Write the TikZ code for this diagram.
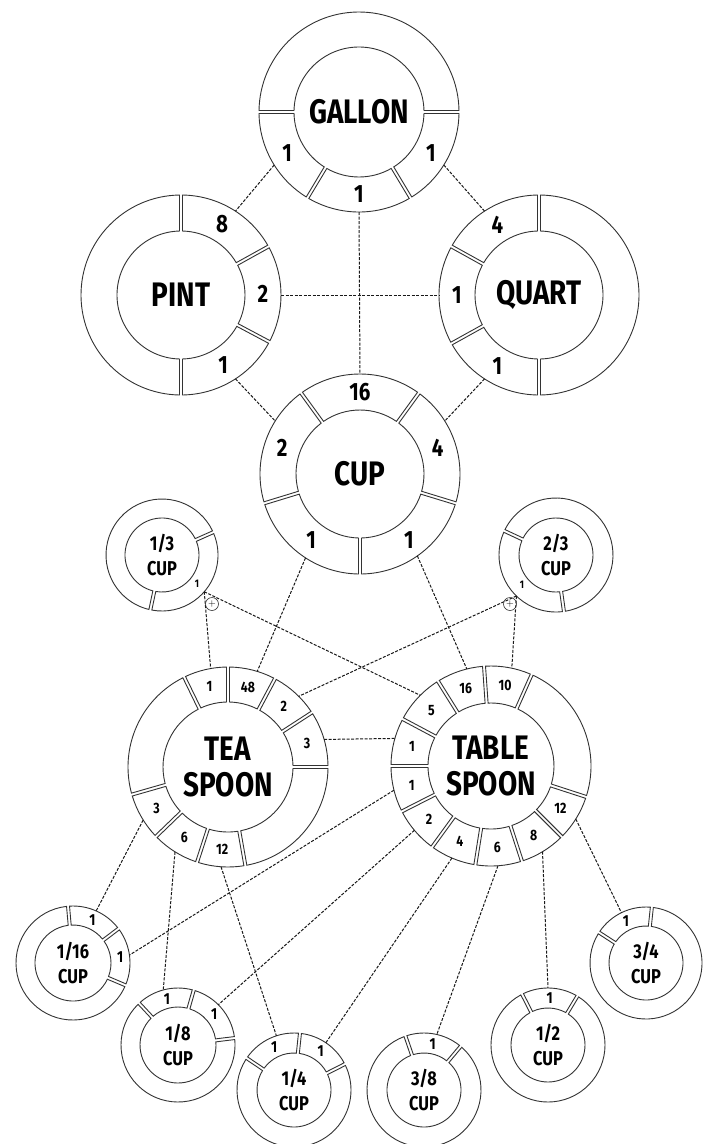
\documentclass[tikz,border=0pt]{standalone}
\usepackage{fontspec}
\newfontfamily\cf{Fira Sans}[FakeStretch=0.82]
\def\gapw{1.5}
\newcommand\ringseg[4]{%
  \pgfmathsetmacro\rsInS{#3+\gapw/#1*57.2958}%
  \pgfmathsetmacro\rsInE{#4-\gapw/#1*57.2958}%
  \pgfmathsetmacro\rsOutS{#3+\gapw/#2*57.2958}%
  \pgfmathsetmacro\rsOutE{#4-\gapw/#2*57.2958}%
  \draw[ringline] (\rsOutS:#2) arc[start angle=\rsOutS, end angle=\rsOutE, radius=#2]
    -- (\rsInE:#1) arc[start angle=\rsInE, end angle=\rsInS, radius=#1] -- cycle;
}
\tikzset{
  ringline/.style={draw=black!80, line width=0.9pt},
  conn/.style={draw=black!90, line width=1pt, dash pattern=on 3pt off 1.5pt},
  hub/.style={circle, inner sep=0pt, outer sep=0pt, align=center},
  title/.style={font=\cf\bfseries\fontsize{34}{36}\selectfont},
  smalltitle/.style={font=\cf\bfseries\fontsize{20}{25}\selectfont},
  bignum/.style={font=\cf\bfseries\fontsize{25}{25}\selectfont, inner sep=0pt},
  midnum/.style={font=\cf\bfseries\fontsize{15}{15}\selectfont, inner sep=0pt},
  smallnum/.style={font=\cf\bfseries\fontsize{16}{16}\selectfont, inner sep=0pt},
  tinynum/.style={font=\cf\bfseries\fontsize{11}{11}\selectfont, inner sep=0pt},
  marker/.style={circle, draw=black!80, line width=0.6pt, minimum size=13pt, inner sep=0pt,
    font=\fontsize{10}{10}\selectfont},
}
\begin{document}
\begin{tikzpicture}[x=1pt,y=1pt]
\useasboundingbox (0,0) rectangle (709,-1144);
\fill[white] (0,0) rectangle (709,-1144);

% ---------- hubs ----------
\node[hub, title, minimum size=200pt] (gal) at (359,-112) {GALLON};
\node[hub, title, minimum size=200pt] (pint) at (181,-295) {PINT};
\node[hub, title, minimum size=200pt] (quart) at (539,-295) {QUART};
\node[hub, title, minimum size=200pt] (cup) at (360,-474) {CUP};
\node[hub, title, minimum size=200pt] (tea) at (228,-767) {TEA\\SPOON};
\node[hub, title, minimum size=200pt] (table) at (491,-766) {TABLE\\SPOON};
\node[hub, smalltitle, minimum size=112pt] (third) at (162,-555) {1/3\\CUP};
\node[hub, smalltitle, minimum size=114pt] (twoth) at (556,-555) {2/3\\CUP};
\node[hub, smalltitle, minimum size=114pt] (c16) at (73,-963) {1/16\\CUP};
\node[hub, smalltitle, minimum size=114pt] (c8) at (178,-1045) {1/8\\CUP};
\node[hub, smalltitle, minimum size=114pt] (c4) at (294,-1090) {1/4\\CUP};
\node[hub, smalltitle, minimum size=114pt] (c38) at (424,-1090) {3/8\\CUP};
\node[hub, smalltitle, minimum size=114pt] (c12) at (548,-1045) {1/2\\CUP};
\node[hub, smalltitle, minimum size=112pt] (c34) at (646,-963) {3/4\\CUP};

% ---------- rings ----------
\begin{scope}[shift={(gal.center)}]
  \foreach \a/\b in {0/180,180/239,239/301,301/360}{\ringseg{65}{100}{\a}{\b}}
  \node[bignum] (gal-a) at (209.5:82.5) {1};
  \node[bignum] (gal-b) at (270:82.5) {1};
  \node[bignum] (gal-c) at (330.5:82.5) {1};
\end{scope}
\begin{scope}[shift={(pint.center)}]
  \foreach \a/\b in {90/270,270/332,-28/29,29/90}{\ringseg{64}{100}{\a}{\b}}
  \node[bignum] (pint-a) at (60:82) {8};
  \node[bignum] (pint-b) at (0.5:82) {2};
  \node[bignum] (pint-c) at (-59:82) {1};
\end{scope}
\begin{scope}[shift={(quart.center)}]
  \foreach \a/\b in {-90/90,90/151,151/209,209/270}{\ringseg{64}{100}{\a}{\b}}
  \node[bignum] (quart-a) at (120.5:82) {4};
  \node[bignum] (quart-b) at (180:82) {1};
  \node[bignum] (quart-c) at (239.5:82) {1};
\end{scope}
\begin{scope}[shift={(cup.center)}]
  \foreach \a/\b in {54/126,126/197,197/270,270/343,-17/54}{\ringseg{64}{100}{\a}{\b}}
  \node[bignum] (cup-a) at (90:82) {16};
  \node[bignum] (cup-b) at (161.5:82) {2};
  \node[bignum] (cup-c) at (233.5:82) {1};
  \node[bignum] (cup-d) at (306.5:82) {1};
  \node[bignum] (cup-e) at (18.5:82) {4};
\end{scope}
\begin{scope}[shift={(tea.center)}]
  \foreach \a/\b in {0/33,33/62,62/90,90/116,116/196,196/224,224/252,252/280,280/360}{\ringseg{65}{100}{\a}{\b}}
  \node[midnum] (tea-a) at (16.5:82.5) {3};
  \node[midnum] (tea-b) at (47.5:82.5) {2};
  \node[midnum] (tea-c) at (76:82.5) {48};
  \node[midnum] (tea-d) at (103:82.5) {1};
  \node[midnum] (tea-e) at (210:82.5) {3};
  \node[midnum] (tea-f) at (238:82.5) {6};
  \node[midnum] (tea-g) at (266:82.5) {12};
\end{scope}
\begin{scope}[shift={(table.center)}]
  \foreach \a/\b in {66/94,94/122,122/152,152/180,180/207,207/234,234/261,261/288,288/315,315/342,-18/66}{\ringseg{63}{100}{\a}{\b}}
  \node[midnum] (tab-a) at (80:81.5) {10};
  \node[midnum] (tab-b) at (108:81.5) {16};
  \node[midnum] (tab-c) at (137:81.5) {5};
  \node[midnum] (tab-d) at (166:81.5) {1};
  \node[midnum] (tab-e) at (193.5:81.5) {1};
  \node[midnum] (tab-f) at (220.5:81.5) {2};
  \node[midnum] (tab-g) at (247.5:81.5) {4};
  \node[midnum] (tab-h) at (274.5:81.5) {6};
  \node[midnum] (tab-i) at (301.5:81.5) {8};
  \node[midnum] (tab-j) at (328.5:81.5) {12};
\end{scope}
\begin{scope}[shift={(third.center)}]
  \foreach \a/\b in {24/258,258/384}{\ringseg{37}{56}{\a}{\b}}
  \node[tinynum] (third-a) at (-39:45) {1};
\end{scope}
\begin{scope}[shift={(twoth.center)}]
  \foreach \a/\b in {155/278,278/515}{\ringseg{37}{57}{\a}{\b}}
  \node[tinynum] (twoth-a) at (221:45) {1};
\end{scope}
\begin{scope}[shift={(c16.center)}]
  \foreach \a/\b in {37/95,-23/37,95/337}{\ringseg{38}{57}{\a}{\b}}
  \node[smallnum] (c16-a) at (66:47.5) {1};
  \node[smallnum] (c16-b) at (7:47.5) {1};
\end{scope}
\begin{scope}[shift={(c8.center)}]
  \foreach \a/\b in {74/133,7/74,133/367}{\ringseg{38}{57}{\a}{\b}}
  \node[smallnum] (c8-a) at (103.5:47.5) {1};
  \node[smallnum] (c8-b) at (40.5:47.5) {1};
\end{scope}
\begin{scope}[shift={(c4.center)}]
  \foreach \a/\b in {84/146,27/84,146/387}{\ringseg{37}{57}{\a}{\b}}
  \node[smallnum] (c4-a) at (115:47) {1};
  \node[smallnum] (c4-b) at (55.5:47) {1};
\end{scope}
\begin{scope}[shift={(c38.center)}]
  \foreach \a/\b in {50/109,109/410}{\ringseg{37}{57}{\a}{\b}}
  \node[smallnum] (c38-a) at (79.5:47) {1};
\end{scope}
\begin{scope}[shift={(c12.center)}]
  \foreach \a/\b in {59/117,117/419}{\ringseg{37}{57}{\a}{\b}}
  \node[smallnum] (c12-a) at (88:47) {1};
\end{scope}
\begin{scope}[shift={(c34.center)}]
  \foreach \a/\b in {84/147,147/444}{\ringseg{37}{56}{\a}{\b}}
  \node[smallnum] (c34-a) at (115.5:46.5) {1};
\end{scope}

% ---------- connectors ----------
\draw[conn] (gal.212) -- (pint.57);
\draw[conn] (gal.328) -- (quart.123);
\draw[conn] (gal.270) -- (cup.90);
\draw[conn] (pint.0) -- (quart.180);
\draw[conn] (pint.-57) -- (cup.148);
\draw[conn] (quart.237) -- (cup.32);
\draw[conn] (cup.237) -- (tea.73);
\draw[conn] (cup.-55) -- (table.104);
\draw[conn] (third.-41) -- (tea.100);
\draw[conn] (third.-41) -- (table.135);
\draw[conn] (twoth.226) -- (table.78);
\draw[conn] (twoth.226) -- (tea.45);
\draw[conn] (tea.16) -- (table.164);
\draw[conn] (tea.212) -- (c16.66);
\draw[conn] (tea.238) -- (c8.105);
\draw[conn] (tea.266) -- (c4.108);
\draw[conn] (table.194) -- (c16.8);
\draw[conn] (table.220) -- (c8.45);
\draw[conn] (table.247) -- (c4.56);
\draw[conn] (table.274) -- (c38.77);
\draw[conn] (table.301) -- (c12.90);
\draw[conn] (table.328) -- (c34.116);

% ---------- junction markers ----------
\node[marker] (mk1) at (212,-604) {+};
\node[marker] (mk2) at (510,-604) {+};
\end{tikzpicture}
\end{document}
